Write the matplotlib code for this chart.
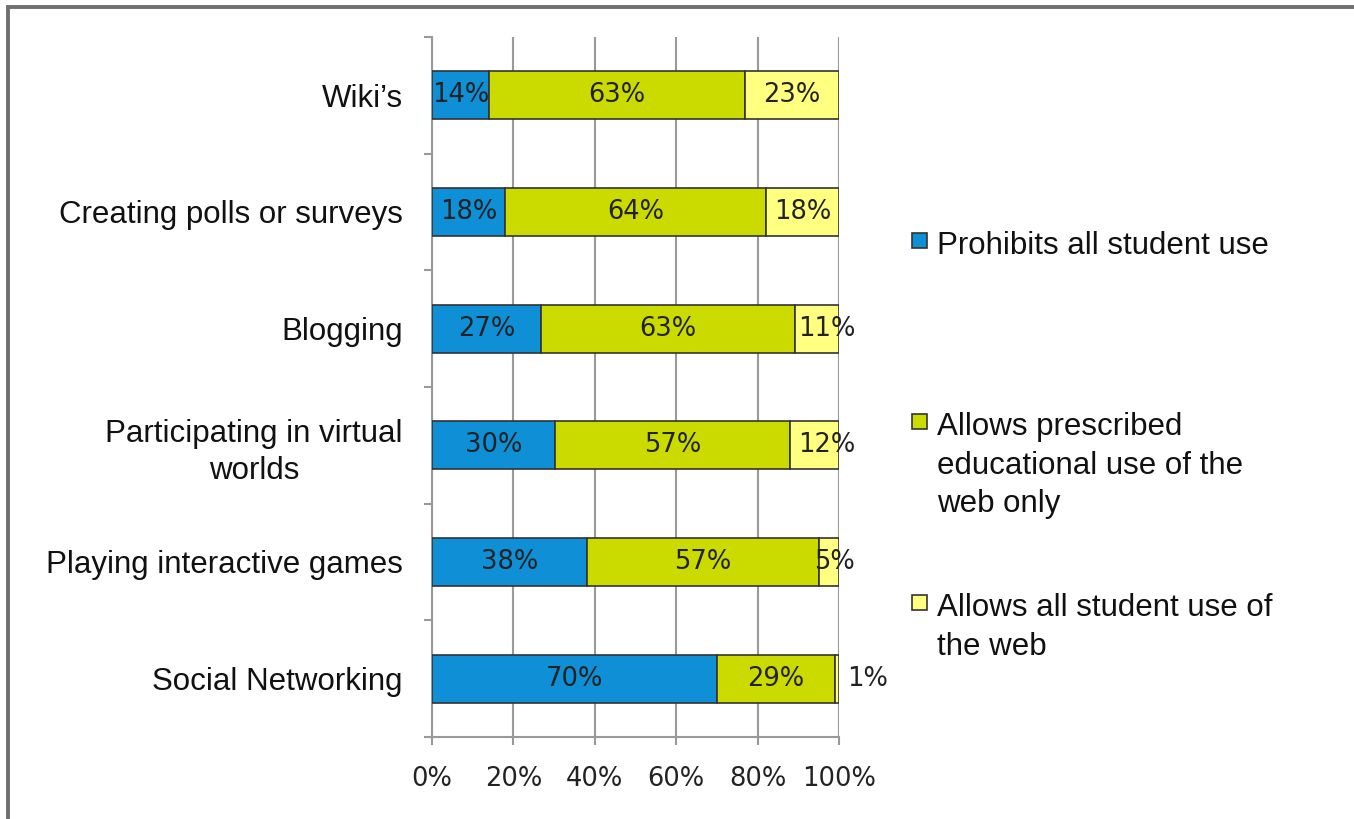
import matplotlib.pyplot as plt
from matplotlib.patches import Rectangle
import numpy as np

# data (top to bottom as shown)
categories = ["Wiki\u2019s", "Creating polls or surveys", "Blogging",
              "Participating in virtual\nworlds", "Playing interactive games",
              "Social Networking"]
prohibits = [14, 18, 27, 30, 38, 70]
prescribed = [63, 64, 63, 57, 57, 29]
allows_all = [23, 18, 11, 12, 5, 1]
series_names = ["Prohibits all student use",
                "Allows prescribed\neducational use of the\nweb only",
                "Allows all student use of\nthe web"]
colors = ["#0e8fd6", "#cbdb00", "#ffff80"]
xticks = [0, 20, 40, 60, 80, 100]

fig = plt.figure(figsize=(13.54, 8.19), dpi=100)
ax = fig.add_axes([432 / 1354, 1 - 737 / 819, 407 / 1354, 700 / 819])

# 100% stacked: rows are scaled so each sums to 100
raw = np.array([prohibits, prescribed, allows_all], dtype=float)
shares = raw / raw.sum(axis=0) * 100

y = np.arange(len(categories))
left = np.zeros(len(categories))
for k, col in enumerate(colors):
    vals = shares[k]
    ax.barh(y, vals, left=left, height=0.41, color=col, edgecolor="#333333",
            linewidth=1.2, zorder=3)
    for yi, l, v, lab in zip(y, left, vals, raw[k]):
        txt = f"{lab:.0f}%"
        if v < 3:
            ax.text(107, yi, txt, ha="center", va="center",
                    fontsize=18.5, color="#222222", zorder=4, clip_on=False)
        elif v < 15 and k == 2:
            ax.text(104, yi, txt, ha="right", va="center",
                    fontsize=18.5, color="#222222", zorder=4, clip_on=False)
        else:
            ax.text(l + v / 2, yi, txt, ha="center", va="center",
                    fontsize=18.5, color="#222222", zorder=4)
    left += vals

ax.set_xlim(0, 100)
ax.set_ylim(len(categories) - 0.5, -0.5)
ax.set_xticks(xticks)
ax.set_xticklabels([f"{t}%" for t in xticks], fontsize=18.5, color="#222222")
ax.set_yticks(y)
ax.set_yticklabels(categories, fontsize=22.5, family="Liberation Sans",
                   color="#111111")
for t in ax.get_yticklabels():
    t.set_multialignment("center")
    t.set_linespacing(1.3)
ax.set_yticks(np.arange(len(categories) + 1) - 0.5, minor=True)
ax.tick_params(axis="y", which="major", length=0, pad=21)
ax.tick_params(axis="y", which="minor", length=6, color="#999999", width=1.5)
ax.tick_params(axis="x", length=6, color="#999999", width=1.5, pad=15)

ax.grid(axis="x", color="#999999", linewidth=1.5, zorder=0)
for s in ["top", "right"]:
    ax.spines[s].set_visible(False)
for s in ["left", "bottom"]:
    ax.spines[s].set_color("#999999")
    ax.spines[s].set_linewidth(1.5)

# legend drawn by hand
leg_tops = [243, 424, 605]
for name, col, ty in zip(series_names, colors, leg_tops):
    fig.patches.append(Rectangle((912 / 1354, 1 - (ty + 5) / 819), 15 / 1354, 15 / 819,
                                 transform=fig.transFigure, facecolor=col,
                                 edgecolor="#333333", linewidth=1.2))
    fig.text(937 / 1354, 1 - (ty - 12) / 819, name, ha="left", va="top",
             fontsize=22.5, family="Liberation Sans", color="#111111",
             linespacing=1.37)

# outer frame (only top/left visible in the crop)
fig.patches.append(Rectangle((8 / 1354, -0.1), 1.1, 1.1 - 7 / 819,
                             transform=fig.transFigure, facecolor="none",
                             edgecolor="#707070", linewidth=2.8))

fig.savefig("out.png", dpi=100)
